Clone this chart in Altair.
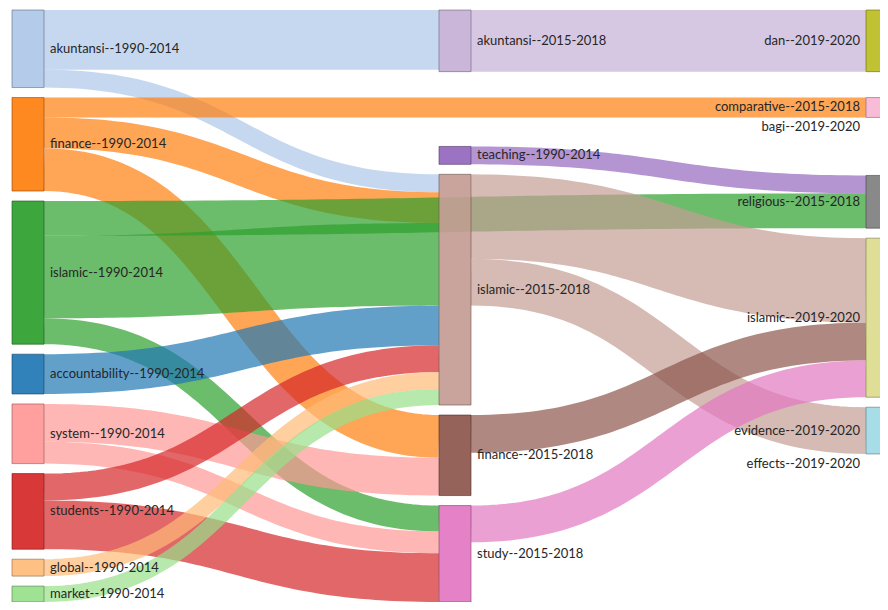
import functools
import altair as alt
import numpy as np
import pandas as pd

# ------------------------------------------------------------------ data
node_names = [
    "akuntansi--1990-2014", "finance--1990-2014", "islamic--1990-2014",
    "accountability--1990-2014", "system--1990-2014", "students--1990-2014",
    "global--1990-2014", "market--1990-2014",
    "akuntansi--2015-2018", "teaching--1990-2014", "islamic--2015-2018",
    "finance--2015-2018", "study--2015-2018",
    "dan--2019-2020", "comparative--2015-2018", "bagi--2019-2020",
    "religious--2015-2018", "islamic--2019-2020", "evidence--2019-2020",
    "effects--2019-2020",
]

link_source = [
    "akuntansi--1990-2014", "akuntansi--1990-2014",
    "finance--1990-2014", "finance--1990-2014", "finance--1990-2014",
    "islamic--1990-2014", "islamic--1990-2014", "islamic--1990-2014",
    "accountability--1990-2014",
    "system--1990-2014", "system--1990-2014",
    "students--1990-2014", "students--1990-2014",
    "global--1990-2014", "market--1990-2014", "teaching--1990-2014",
    "akuntansi--2015-2018", "islamic--2015-2018", "islamic--2015-2018",
    "finance--2015-2018", "study--2015-2018",
]
link_target = [
    "akuntansi--2015-2018", "islamic--2015-2018",
    "comparative--2015-2018", "islamic--2015-2018", "finance--2015-2018",
    "religious--2015-2018", "islamic--2015-2018", "study--2015-2018",
    "islamic--2015-2018",
    "finance--2015-2018", "study--2015-2018",
    "islamic--2015-2018", "study--2015-2018",
    "islamic--2015-2018", "islamic--2015-2018", "religious--2015-2018",
    "dan--2019-2020", "islamic--2019-2020", "evidence--2019-2020",
    "islamic--2019-2020", "islamic--2019-2020",
]
link_value = [
    60, 18,
    20, 31, 43,
    35, 83, 26,
    40,
    38, 22,
    27, 49,
    17, 16, 18,
    62, 85, 47,
    38, 37,
]

# ------------------------------------------------------------------ style
palette = {
    "akuntansi--1990-2014": "#aec7e8", "finance--1990-2014": "#ff7f0e",
    "islamic--1990-2014": "#2ca02c", "accountability--1990-2014": "#1f77b4",
    "system--1990-2014": "#ff9896", "students--1990-2014": "#d62728",
    "global--1990-2014": "#ffbb78", "market--1990-2014": "#98df8a",
    "akuntansi--2015-2018": "#c5b0d5", "teaching--1990-2014": "#9467bd",
    "islamic--2015-2018": "#c49c94", "finance--2015-2018": "#8c564b",
    "study--2015-2018": "#e377c2", "dan--2019-2020": "#bcbd22",
    "comparative--2015-2018": "#f7b6d2", "bagi--2019-2020": "#c7c7c7",
    "religious--2015-2018": "#7f7f7f", "islamic--2019-2020": "#dbdb8d",
    "evidence--2019-2020": "#9edae5", "effects--2019-2020": "#17becf",
}
NODE_WIDTH = 32
NODE_PAD = 10
EXTENT_H = 592
COL_STEP = 427
PASSES = 5
CHART_W, CHART_H = 872, 594


def darker(hex_color, k=0.55):
    r, g, b = (int(hex_color[i:i + 2], 16) for i in (1, 3, 5))
    return "#%02x%02x%02x" % (int(r * k), int(g * k), int(b * k))


# ------------------------------------------------------------------ sankey layout
L = list(zip(link_source, link_target, link_value))
out_links = {n: [k for k, (s, t, v) in enumerate(L) if s == n] for n in node_names}
in_links = {n: [k for k, (s, t, v) in enumerate(L) if t == n] for n in node_names}


@functools.lru_cache(None)
def node_height(n):
    return 0 if not out_links[n] else 1 + max(node_height(L[k][1]) for k in out_links[n])


ncol = max(node_height(n) for n in node_names) + 1
col = {n: ncol - 1 - node_height(n) for n in node_names}
val = {n: max(sum(L[k][2] for k in out_links[n]), sum(L[k][2] for k in in_links[n]))
       for n in node_names}
columns = [[n for n in node_names if col[n] == c] for c in range(ncol)]
ky = min((EXTENT_H - (len(c) - 1) * NODE_PAD) / sum(val[n] for n in c) for c in columns)
lw = [v * ky for (_, _, v) in L]
hgt = {n: val[n] * ky for n in node_names}

y0 = {}
for c in columns:
    y = 0.0
    for n in c:
        y0[n] = y
        y += hgt[n] + NODE_PAD


def ctr(n):
    return y0[n] + hgt[n] / 2


def out_sorted(n):
    return sorted(out_links[n], key=lambda k: ctr(L[k][1]))


def in_sorted(n):
    return sorted(in_links[n], key=lambda k: ctr(L[k][0]))


def off_out(k):
    s = 0.0
    for j in out_sorted(L[k][0]):
        if j == k:
            return s
        s += lw[j]


def off_in(k):
    s = 0.0
    for j in in_sorted(L[k][1]):
        if j == k:
            return s
        s += lw[j]


def ideal(n):
    if in_links[n]:
        pairs = [(y0[L[k][0]] + off_out(k) - off_in(k), lw[k] ** 2) for k in in_links[n]]
    elif out_links[n]:
        pairs = [(y0[L[k][1]] + off_in(k) - off_out(k), lw[k] ** 2) for k in out_links[n]]
    else:
        return y0[n]
    return sum(p * w for p, w in pairs) / sum(w for _, w in pairs)


for _ in range(PASSES):
    for c in columns:
        want = {n: ideal(n) for n in c}
        y = 0.0
        for n in c:
            y0[n] = max(want[n], y)
            y = y0[n] + hgt[n] + NODE_PAD
        lim = EXTENT_H
        for n in reversed(c):
            if y0[n] + hgt[n] > lim:
                y0[n] = lim - hgt[n]
            lim = y0[n] - NODE_PAD

x0 = {n: col[n] * COL_STEP for n in node_names}

# ------------------------------------------------------------------ tables
link_rows = []
ts = np.linspace(0, 1, 61)
for k, (s, t, v) in enumerate(L):
    xa, xb = x0[s] + NODE_WIDTH, x0[t]
    ya = y0[s] + off_out(k) + lw[k] / 2
    yb = y0[t] + off_in(k) + lw[k] / 2
    xm = (xa + xb) / 2
    for tt in ts:
        a, b, c2, d = (1 - tt) ** 3, 3 * (1 - tt) ** 2 * tt, 3 * (1 - tt) * tt ** 2, tt ** 3
        link_rows.append({
            "link": k, "t": tt,
            "x": a * xa + (b + c2) * xm + d * xb,
            "y": (a + b) * ya + (c2 + d) * yb,
            "w": lw[k], "color": palette[s],
        })
links_df = pd.DataFrame(link_rows)

nodes_df = pd.DataFrame([{
    "name": n, "x0": x0[n], "x1": x0[n] + NODE_WIDTH, "y0": y0[n], "y1": y0[n] + hgt[n],
    "color": palette[n], "stroke": darker(palette[n]),
} for n in node_names if hgt[n] > 0])

labels_df = pd.DataFrame([{
    "name": n, "cy": ctr(n),
    "lx": (x0[n] + NODE_WIDTH + 6) if col[n] < ncol - 1 else (x0[n] - 6),
    "side": "left" if col[n] < ncol - 1 else "right",
} for n in node_names])

# ------------------------------------------------------------------ chart
xs = alt.Scale(domain=[-4, CHART_W - 4], nice=False, zero=False)
ys = alt.Scale(domain=[-2, CHART_H - 2], nice=False, zero=False, reverse=True)

links_layer = alt.Chart(links_df).mark_line(strokeCap="butt", strokeOpacity=0.7).encode(
    x=alt.X("x:Q", scale=xs, axis=None),
    y=alt.Y("y:Q", scale=ys, axis=None),
    detail="link:N",
    order="t:Q",
    color=alt.Color("color:N", scale=None, legend=None),
    strokeWidth=alt.StrokeWidth("w:Q", scale=None, legend=None),
)

nodes_layer = alt.Chart(nodes_df).mark_rect(strokeWidth=1, fillOpacity=0.92, strokeOpacity=0.6).encode(
    x=alt.X("x0:Q", scale=xs, axis=None), x2="x1:Q",
    y=alt.Y("y0:Q", scale=ys, axis=None), y2="y1:Q",
    fill=alt.Fill("color:N", scale=None, legend=None),
    stroke=alt.Stroke("stroke:N", scale=None, legend=None),
)

text_style = dict(baseline="middle", font="Lato", fontSize=13, color="#262626")
labels_left = alt.Chart(labels_df).transform_filter(alt.datum.side == "left").mark_text(
    align="left", **text_style).encode(
    x=alt.X("lx:Q", scale=xs, axis=None), y=alt.Y("cy:Q", scale=ys, axis=None), text="name:N")
labels_right = alt.Chart(labels_df).transform_filter(alt.datum.side == "right").mark_text(
    align="right", **text_style).encode(
    x=alt.X("lx:Q", scale=xs, axis=None), y=alt.Y("cy:Q", scale=ys, axis=None), text="name:N")

chart = alt.layer(links_layer, nodes_layer, labels_left, labels_right).properties(
    width=CHART_W, height=CHART_H, padding=0,
    autosize=alt.AutoSizeParams(type="none"),
).configure_view(stroke=None)

chart.save("out.html", embed_options={"renderer": "svg", "actions": False})
